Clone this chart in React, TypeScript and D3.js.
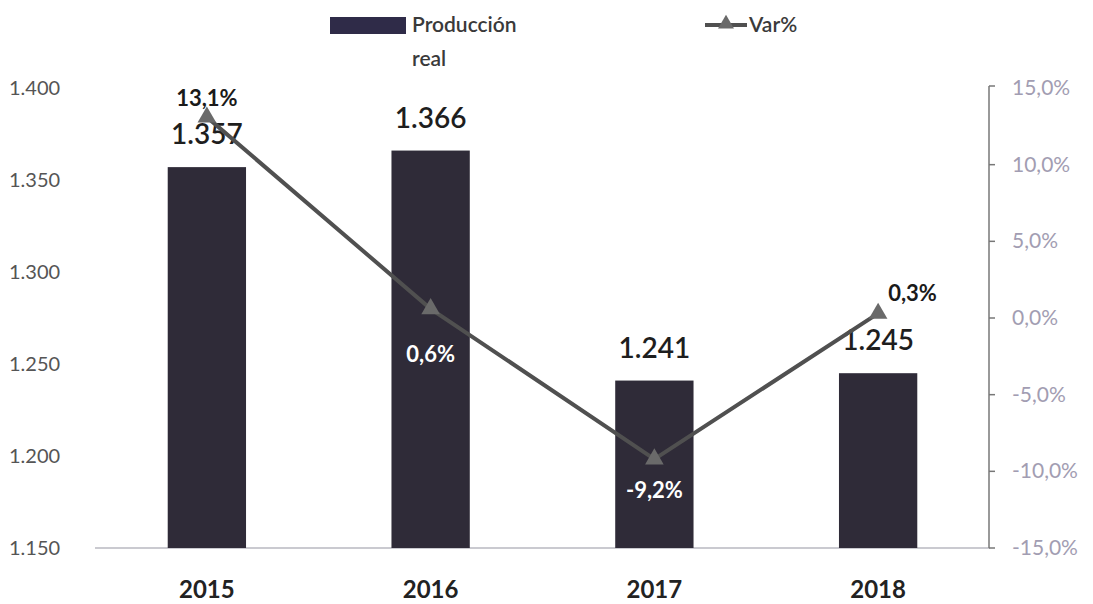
import React from "react";
import * as d3 from "d3";

const years = ["2015", "2016", "2017", "2018"];
const produccion = [1.357, 1.366, 1.241, 1.245];
const variacion = [13.1, 0.6, -9.2, 0.3];
const leftTicks = [1.15, 1.2, 1.25, 1.3, 1.35, 1.4];
const rightTicks = [-15, -10, -5, 0, 5, 10, 15];

const W = 1093;
const H = 604;
const font = "Lato, 'Open Sans', sans-serif";

const hy = (s: string) => s.replace("\u2212", "-");

export default function App() {
  const x = d3.scaleBand<string>().domain(years).range([95, 990]).paddingInner(0.65).paddingOuter(0.325);
  const yL = d3.scaleLinear().domain([1.15, 1.4]).range([548, 88]);
  const yR = d3.scaleLinear().domain([-15, 15]).range([548, 88]);
  const fmtL = (v: number) => d3.format(".3f")(v);
  const fmtR = (v: number) => hy(d3.format(".1f")(v)).replace(".", ",") + "%";
  const fmtVal = (v: number) => d3.format(".3f")(v);
  const fmtVar = (v: number) => hy(d3.format(".1f")(v)).replace(".", ",") + "%";
  const cx = (y: string) => (x(y) as number) + x.bandwidth() / 2;
  const line = d3
    .line<number>()
    .x((_, i) => cx(years[i]))
    .y((d) => yR(d));
  const tri = d3.symbol().type(d3.symbolTriangle).size(150)();

  const varLabelPos = [
    { dx: 0, dy: -11, color: "#1a1a1a", anchor: "middle" },
    { dx: 0, dy: 53, color: "#ffffff", anchor: "middle" },
    { dx: 0, dy: 39, color: "#ffffff", anchor: "middle" },
    { dx: 10, dy: -12, color: "#1a1a1a", anchor: "start" },
  ];

  return (
    <svg width={W} height={H} style={{ position: "absolute", left: 0, top: 0, background: "#fff" }} fontFamily={font}>
      {leftTicks.map((t) => (
        <text key={t} x={9} y={yL(t) + 7} fontSize={20} fill="#555">
          {fmtL(t)}
        </text>
      ))}
      <line x1={95} x2={990} y1={548} y2={548} stroke="#b8b8c0" strokeWidth={1.5} />
      <line x1={989} x2={989} y1={86} y2={548} stroke="#777" strokeWidth={1.5} />
      {rightTicks.map((t) => (
        <g key={t}>
          <line x1={989} x2={995} y1={yR(t) - (t === 15 ? 2 : 0)} y2={yR(t) - (t === 15 ? 2 : 0)} stroke="#777" strokeWidth={1.5} />
          <text x={1012} y={yR(t) + 7} fontSize={21} fill="#a29db2">
            {fmtR(t)}
          </text>
        </g>
      ))}
      {years.map((yr, i) => (
        <g key={yr}>
          <rect x={x(yr)} y={yL(produccion[i])} width={x.bandwidth()} height={548 - yL(produccion[i])} fill="#2f2b38" />
          <text x={cx(yr)} y={yL(produccion[i]) - 23} fontSize={28} textAnchor="middle" fill="#1e1e1e" fontWeight={600}>
            {fmtVal(produccion[i])}
          </text>
          <text x={cx(yr)} y={598} fontSize={24} fontWeight={700} textAnchor="middle" fill="#222">
            {yr}
          </text>
        </g>
      ))}
      <path d={line(variacion) || ""} fill="none" stroke="#505050" strokeWidth={4} />
      {variacion.map((v, i) => (
        <g key={i}>
          <path d={tri || ""} transform={`translate(${cx(years[i])},${yR(v)})`} fill="#6a6a6a" />
          <text
            x={cx(years[i]) + varLabelPos[i].dx}
            y={yR(v) + varLabelPos[i].dy}
            fontSize={22}
            fontWeight={700}
            textAnchor={varLabelPos[i].anchor as any}
            fill={varLabelPos[i].color}
          >
            {fmtVar(v)}
          </text>
        </g>
      ))}
      <rect x={330} y={17} width={76} height={17} fill="#2f2b48" />
      <text x={412} y={32} fontSize={21} fontWeight={600} fill="#3a3a3a">
        Producción
      </text>
      <text x={412} y={66} fontSize={21} fontWeight={600} fill="#3a3a3a">
        real
      </text>
      <line x1={705} x2={747} y1={25} y2={25} stroke="#505050" strokeWidth={4} />
      <path d={d3.symbol().type(d3.symbolTriangle).size(110)() || ""} transform="translate(726,24)" fill="#6a6a6a" />
      <text x={749} y={32} fontSize={21} fontWeight={600} fill="#3a3a3a">
        Var%
      </text>
    </svg>
  );
}
